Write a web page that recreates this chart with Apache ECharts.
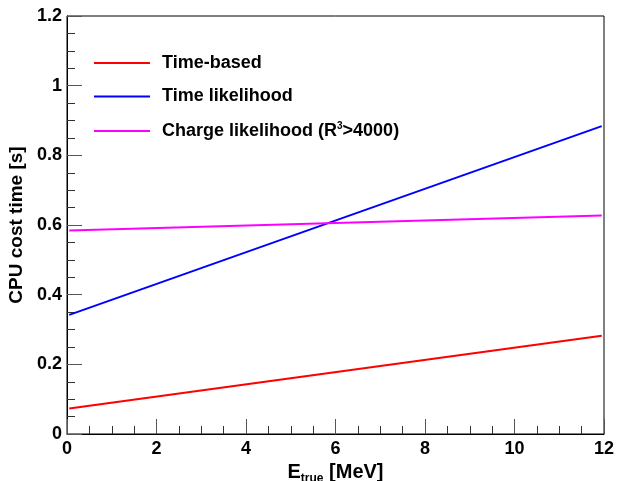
<!DOCTYPE html>
<html>
<head>
<meta charset="utf-8">
<script src="https://cdn.jsdelivr.net/npm/echarts@6/dist/echarts.min.js"></script>
<style>html,body{margin:0;padding:0;background:#fff}#c{width:619px;height:481px}</style>
</head>
<body>
<div id="c"></div>
<script>
var energy = [0.05, 11.95];
var timeBased = [0.073, 0.282];
var timeLikelihood = [0.342, 0.884];
var chargeLikelihood = [0.584, 0.627];
var seriesNames = ['Time-based', 'Time likelihood', 'Charge likelihood (R^3>4000)'];
var xTitle = 'E_true [MeV]';
var yTitle = 'CPU cost time [s]';

function pairs(xs, ys) { return xs.map(function (x, i) { return [x, ys[i]]; }); }

var FONT = '"Liberation Sans", Arial, sans-serif';
var chart = echarts.init(document.getElementById('c'));
chart.setOption({
  animation: false,
  backgroundColor: '#fff',
  grid: { left: 67, right: 15, top: 16, bottom: 47, containLabel: false, outerBoundsMode: 'none',
    show: true, borderColor: '#000', borderWidth: 1, backgroundColor: 'transparent' },
  legend: {
    orient: 'vertical', left: 93, top: 54, padding: 0,
    itemWidth: 56, itemHeight: 20, itemGap: 15.5,
    data: seriesNames,
    itemStyle: { opacity: 0 },
    formatter: function (n) {
      if (n.indexOf('^3') >= 0) return '{b|Charge likelihood (R}{sup|3}{b|>4000)}';
      return '{b|' + n + '}';
    },
    textStyle: {
      padding: [0, 0, 0, 7],
      rich: {
        b: { fontFamily: FONT, fontWeight: 'bold', fontSize: 18, color: '#000', lineHeight: 20 },
        sup: { fontFamily: FONT, fontWeight: 'bold', fontSize: 10, color: '#000', lineHeight: 20, verticalAlign: 'top' }
      }
    }
  },
  xAxis: {
    type: 'value', min: 0, max: 12, interval: 2,
    name: '{b|E}{sub|true}{b| [MeV]}', nameLocation: 'middle', nameGap: 20,
    nameTextStyle: {
      rich: {
        b: { fontFamily: FONT, fontWeight: 'bold', fontSize: 20, color: '#000', lineHeight: 24 },
        sub: { fontFamily: FONT, fontWeight: 'bold', fontSize: 12, color: '#000', lineHeight: 24, verticalAlign: 'bottom' }
      }
    },
    axisLine: { lineStyle: { color: '#000', width: 1 } },
    axisTick: { inside: true, length: 15, lineStyle: { color: '#555' } },
    minorTick: { show: true, splitNumber: 4, length: 8, lineStyle: { color: '#333' } },
    splitLine: { show: false },
    axisLabel: { margin: 6, fontFamily: FONT, fontWeight: 'bold', fontSize: 18, color: '#000' }
  },
  yAxis: {
    type: 'value', min: 0, max: 1.2, interval: 0.2,
    name: yTitle, nameLocation: 'middle', nameGap: 37, nameRotate: 90,
    nameTextStyle: { fontFamily: FONT, fontWeight: 'bold', fontSize: 19, color: '#000' },
    axisLine: { show: true, lineStyle: { color: '#000', width: 1 } },
    axisTick: { show: true, inside: true, length: 15, lineStyle: { color: '#555' } },
    minorTick: { show: true, splitNumber: 4, length: 8, lineStyle: { color: '#333' } },
    splitLine: { show: false },
    axisLabel: { margin: 5, fontFamily: FONT, fontWeight: 'bold', fontSize: 18, color: '#000',
      formatter: function (v) { return String(Math.round(v * 10) / 10); } }
  },
  series: [
    { name: seriesNames[0], type: 'line', data: pairs(energy, timeBased), symbol: 'none', lineStyle: { color: '#ff0000', width: 2 }, itemStyle: { color: '#ff0000' } },
    { name: seriesNames[1], type: 'line', data: pairs(energy, timeLikelihood), symbol: 'none', lineStyle: { color: '#0000ff', width: 2 }, itemStyle: { color: '#0000ff' } },
    { name: seriesNames[2], type: 'line', data: pairs(energy, chargeLikelihood), symbol: 'none', lineStyle: { color: '#ff00ff', width: 2 }, itemStyle: { color: '#ff00ff' } }
  ]
});
</script>
</body>
</html>
